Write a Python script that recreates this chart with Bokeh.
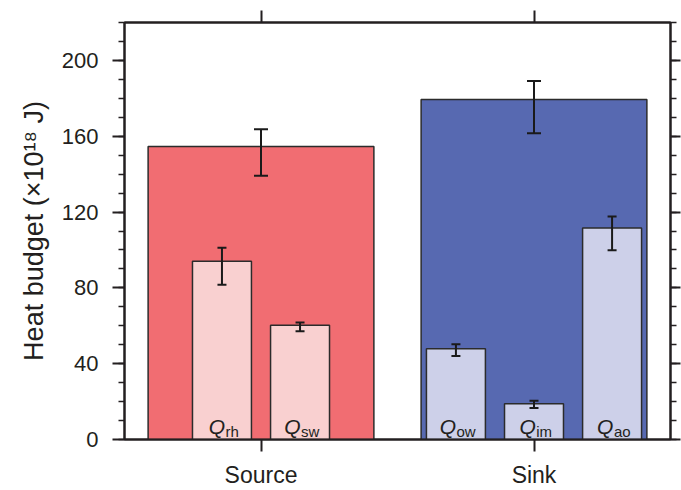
from bokeh.plotting import figure
from bokeh.models import (Range1d, LinearAxis, FixedTicker, ColumnDataSource,
                          Whisker, TeeHead, CustomJSTickFormatter)
from bokeh.core.properties import value
from bokeh.embed import file_html
from bokeh.resources import INLINE

# ---------------- data ----------------
categories = ["Source", "Sink"]
total_values = [154.6, 179.4]
total_lower = [139.2, 161.6]
total_upper = [163.7, 189.2]

component_groups = ["Source", "Source", "Sink", "Sink", "Sink"]
component_subscripts = ["rh", "sw", "ow", "im", "ao"]
component_values = [94.0, 60.3, 47.9, 18.9, 111.6]
component_lower = [81.6, 57.1, 44.0, 16.6, 99.8]
component_upper = [101.1, 61.7, 50.3, 20.4, 117.6]

y_ticks = [0, 40, 80, 120, 160, 200]
y_minor_step = 10
y_max = 220
y_label = "Heat budget (×10¹⁸ J)"

# ---------------- style ----------------
FONT = "Liberation Sans"
INK = "#231f20"
category_fill = {"Source": "#F16D72", "Sink": "#5769B1"}
component_fill = {"Source": "#F9D0D0", "Sink": "#CDD0E9"}
BIG_W = 0.827
SUB_W = 0.216
SUB_STEP = 0.286
Q_FS = 21
SUB_FS = 15
LABEL_SHIFT = 1.5
CHAR_W = {"r": .333, "h": .556, "s": .5, "w": .722, "o": .556,
          "i": .222, "m": .833, "a": .556}

# ---------------- positions from categories ----------------
cat_x = {c: i + 0.5 for i, c in enumerate(categories)}
counts = {c: component_groups.count(c) for c in categories}
seen = {c: 0 for c in categories}
comp_x = []
for g in component_groups:
    j = seen[g]
    seen[g] += 1
    comp_x.append(cat_x[g] + (j - (counts[g] - 1) / 2) * SUB_STEP)

q_adv = 0.778 * Q_FS
sub_w = [sum(CHAR_W.get(ch, .556) for ch in s) * SUB_FS for s in component_subscripts]
q_off = [LABEL_SHIFT + (q_adv + w) / 2 - w for w in sub_w]
s_off = [o + 0.5 for o in q_off]

big = ColumnDataSource(dict(
    x=[cat_x[c] for c in categories], top=total_values,
    lower=total_lower, upper=total_upper,
    fill=[category_fill[c] for c in categories]))
comp = ColumnDataSource(dict(
    x=comp_x, top=component_values, lower=component_lower, upper=component_upper,
    fill=[component_fill[g] for g in component_groups],
    q=["Q"] * len(comp_x), sub=component_subscripts,
    y0=[0] * len(comp_x), qoff=q_off, soff=s_off))

p = figure(width=681, height=490,
           x_range=Range1d(0, len(categories)), y_range=Range1d(0, y_max),
           output_backend="svg", toolbar_location=None,
           x_axis_location=None, y_axis_location=None,
           min_border_left=124, min_border_right=11,
           min_border_top=22, min_border_bottom=48)
p.xgrid.visible = False
p.ygrid.visible = False
p.outline_line_color = INK
p.outline_line_width = 2
p.background_fill_color = "white"
p.border_fill_color = "white"

p.vbar(x="x", top="top", bottom=0, width=BIG_W, source=big,
       fill_color="fill", line_color="#2b2b2b", line_width=1.5)
p.vbar(x="x", top="top", bottom=0, width=SUB_W, source=comp,
       fill_color="fill", line_color="#2b2b2b", line_width=1.5)

for src, cap in ((big, 14), (comp, 9)):
    p.add_layout(Whisker(source=src, base="x", upper="upper", lower="lower",
                         level="overlay", line_color="#1a1a1a", line_width=2,
                         upper_head=TeeHead(size=cap, line_width=2, line_color="#1a1a1a"),
                         lower_head=TeeHead(size=cap, line_width=2, line_color="#1a1a1a")))

p.text(x="x", y="y0", text="q", source=comp, x_offset="qoff", y_offset=-2,
       text_align="right", text_baseline="bottom",
       text_font=value(FONT), text_font_style="italic",
       text_font_size=f"{Q_FS}px", text_color=INK)
p.text(x="x", y="y0", text="sub", source=comp, x_offset="soff", y_offset=0,
       text_align="left", text_baseline="bottom",
       text_font=value(FONT), text_font_size=f"{SUB_FS}px", text_color=INK)

y_minor = list(range(0, y_max + 1, y_minor_step))
x_ticks = [cat_x[c] for c in categories]
blank = CustomJSTickFormatter(code="return ''")


def style(ax, out, minor_out):
    ax.axis_line_color = INK
    ax.axis_line_width = 2
    ax.major_tick_line_color = INK
    ax.major_tick_line_width = 2
    ax.minor_tick_line_color = INK
    ax.minor_tick_line_width = 1.5
    ax.major_tick_in = 0
    ax.major_tick_out = out
    ax.minor_tick_in = 0
    ax.minor_tick_out = minor_out
    ax.major_label_text_font = FONT
    ax.major_label_text_color = INK


left = LinearAxis(ticker=FixedTicker(ticks=y_ticks, minor_ticks=y_minor))
style(left, 12, 6)
left.major_label_text_font_size = "22px"
left.major_label_standoff = 14
left.axis_label = y_label
left.axis_label_text_font = FONT
left.axis_label_text_font_size = "27px"
left.axis_label_text_font_style = "normal"
left.axis_label_text_color = INK
left.axis_label_standoff = 10
p.add_layout(left, "left")

right = LinearAxis(ticker=FixedTicker(ticks=y_ticks, minor_ticks=y_minor), formatter=blank)
style(right, 10, 6)
right.major_label_text_font_size = "0px"
right.major_label_standoff = 0
p.add_layout(right, "right")

bottom = LinearAxis(ticker=FixedTicker(ticks=x_ticks, minor_ticks=[]),
                    major_label_overrides={x: c for x, c in zip(x_ticks, categories)})
style(bottom, 12, 0)
bottom.major_label_text_font_size = "23px"
bottom.major_label_standoff = 10
p.add_layout(bottom, "below")

top = LinearAxis(ticker=FixedTicker(ticks=x_ticks, minor_ticks=[]), formatter=blank)
style(top, 12, 0)
top.major_label_text_font_size = "0px"
top.major_label_standoff = 0
p.add_layout(top, "above")

open("out.html", "w").write(file_html(p, INLINE))
